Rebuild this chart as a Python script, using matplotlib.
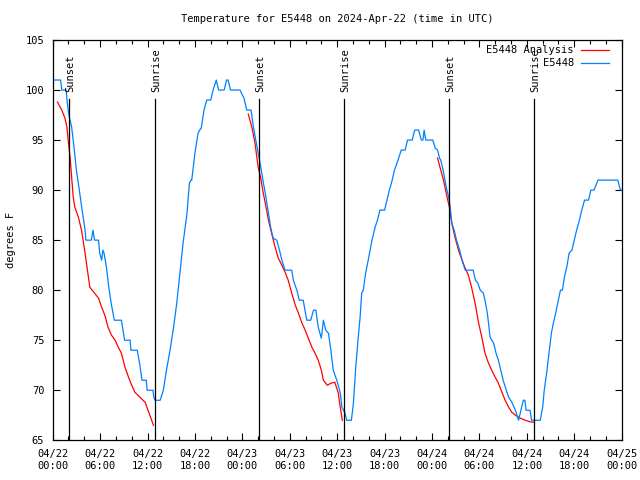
import numpy as np
import matplotlib
matplotlib.use("Agg")
import matplotlib.pyplot as plt
from matplotlib.ticker import MultipleLocator

# hours since 2024-04-22 00:00 UTC
obs_hours = [0.0, 1.0, 1.15, 1.7, 1.85, 2.1, 2.4, 2.7, 3.0, 3.37, 3.67, 4.1, 4.2, 4.9, 5.1, 5.3,
             5.8, 5.95, 6.2, 6.35, 6.5, 6.8, 7.1, 7.4, 7.8, 8.7, 9.1, 9.8, 9.9, 10.7, 11.0, 11.3,
             11.85, 11.95, 12.7, 12.8, 12.95, 13.6, 14.0, 14.4, 14.85, 15.3, 15.7, 16.1, 16.5,
             17.0, 17.3, 17.5, 17.6, 18.0, 18.4, 18.6, 18.8, 19.15, 19.5, 20.0, 20.3, 20.7, 21.0,
             21.7, 22.0, 22.2, 22.5, 23.7, 24.2, 24.55, 25.1, 25.4, 25.7, 26.0, 26.25, 26.6, 26.9,
             27.3, 27.6, 27.9, 28.35, 28.7, 29.0, 29.4, 30.25, 30.45, 30.9, 31.2, 31.7, 32.15,
             32.65, 33.0, 33.3, 33.6, 34.0, 34.25, 34.55, 34.9, 35.2, 35.5, 35.95, 36.4, 36.6,
             36.8, 37.0, 37.2, 37.8, 38.05, 38.35, 38.6, 38.9, 39.1, 39.3, 39.6, 40.0, 40.4, 40.8,
             41.1, 41.4, 42.0, 42.3, 42.6, 42.9, 43.25, 43.7, 44.1, 44.6, 44.9, 45.5, 45.8, 46.3,
             46.65, 46.85, 47.0, 47.2, 48.1, 48.4, 48.7, 48.95, 49.1, 49.4, 49.8, 50.1, 50.3,
             50.5, 50.8, 51.1, 51.5, 51.8, 52.2, 53.2, 53.5, 53.8, 54.1, 54.5, 54.7, 55.0, 55.35,
             55.8, 56.1, 56.4, 56.7, 57.0, 57.4, 57.7, 58.1, 58.55, 58.95, 59.25, 59.55, 59.75,
             59.9, 60.4, 60.6, 61.7, 62.0, 62.2, 62.5, 62.8, 63.1, 63.35, 63.65, 63.9, 64.25,
             64.5, 64.75, 65.05, 65.35, 65.7, 66.0, 66.3, 66.65, 66.95, 67.3, 67.8, 68.1, 68.5,
             69.0, 71.5, 71.85, 72.0]
obs_temp = [101, 101, 100, 100, 98.7, 97.3, 96.3, 94.3, 92, 90, 88.3, 86, 85, 85, 86, 85,
            85, 83.7, 83, 84, 83.7, 82.3, 80.3, 78.7, 77, 77, 75, 75, 74, 74, 72.7, 71,
            71, 70, 70, 69.3, 69, 69, 70, 72, 74, 76.3, 78.7, 81.7, 84.7,
            87.7, 90.7, 91, 91, 93.7, 95.7, 96, 96.2, 98, 99, 99, 100, 101, 100,
            100, 101, 101, 100, 100, 99.2, 98, 98, 96.3, 95, 93.7, 92.7, 91, 89.7,
            87.7, 86.2, 85.2, 85, 84, 83, 82, 82, 81, 80, 79, 79, 77,
            77, 78, 78, 76.3, 75.2, 77, 76, 75.7, 74, 72, 71, 69.7, 68.3,
            68, 67.7, 67, 67, 68.7, 72.3, 74.7, 77.3, 79.7, 80, 81.7, 83.3, 85, 86.3,
            87, 88, 88, 89, 90, 90.8, 92, 93, 94, 94, 95, 95, 96, 96,
            95, 95, 96, 95, 95, 94.2, 94, 93.2, 93, 92, 90.3, 89.3, 88.3,
            86.7, 86, 85, 84, 83, 82, 82, 81, 80.7, 80, 79.7, 79, 77.7, 75.3,
            74.7, 73.7, 73, 72, 71, 70, 69.3, 68.8, 68, 67, 68, 69, 69,
            68, 68, 67, 67, 68.3, 70, 71.7, 73.7, 75.7, 76.7, 77.7, 78.7, 80,
            80, 81.3, 82.3, 83.7, 84, 85, 86, 87, 88, 89, 89, 90, 90,
            91, 91, 90, 90]

ana1_hours = [0.6, 1.15, 1.55, 1.8, 2.0, 2.2, 2.4, 2.6, 2.8, 3.25, 3.65, 4.1, 4.4, 4.7, 5.2, 5.8,
              6.2, 6.6, 7.0, 7.45, 7.9, 8.3, 8.7, 9.15, 9.6, 10.0, 10.4, 11.05, 11.7, 12.3, 12.75]
ana1_temp = [98.8, 98, 97.2, 96.3, 94.7, 93.3, 91.3, 89.3, 88.3, 87.3, 86, 83.7, 82, 80.3, 79.8, 79.2,
             78.3, 77.5, 76.3, 75.5, 75, 74.3, 73.7, 72.3, 71.3, 70.5, 69.8, 69.3, 68.8, 67.5, 66.5]
ana2_hours = [24.75, 25.2, 25.6, 26.0, 26.3, 26.65, 27.0, 27.3, 27.7, 28.15, 28.55, 29.0, 29.4, 29.8,
              30.25, 30.7, 31.1, 31.5, 31.95, 32.35, 32.8, 33.2, 33.6, 34.0, 34.25, 34.75, 35.2,
              35.7, 36.15, 36.35, 36.65]
ana2_temp = [97.6, 96.3, 94.7, 92.3, 91.3, 89.7, 88.3, 87, 85.7, 84.3, 83.2, 82.5, 81.8, 81,
             79.7, 78.5, 77.7, 76.8, 76, 75.2, 74.3, 73.7, 73, 72, 71, 70.5, 70.7,
             70.8, 69.7, 68.5, 67]
ana3_hours = [48.7, 49.0, 49.45, 49.9, 50.2, 50.5, 50.9, 51.35, 51.8, 52.2, 52.6, 53.0, 53.45, 53.9,
              54.3, 54.7, 55.15, 55.55, 56.0, 56.4, 56.85, 57.25, 57.7, 58.1, 58.55, 59.2, 59.8,
              60.4, 60.8]
ana3_temp = [93.2, 92.3, 91, 89.3, 88.3, 86.7, 85.3, 84, 83, 82.2, 81.5, 80.3, 78.7, 76.7,
             75.3, 73.7, 72.7, 72, 71.3, 70.7, 69.8, 69, 68.3, 67.8, 67.5, 67.2, 67,
             66.85, 66.8]

sun_hours = [2.1, 12.98, 26.14, 36.9, 50.18, 60.94]
sun_labels = ["Sunset", "Sunrise", "Sunset", "Sunrise", "Sunset", "Sunrise"]

tick_hours = list(range(0, 73, 6))
tick_labels = ["04/22\n00:00", "04/22\n06:00", "04/22\n12:00", "04/22\n18:00",
               "04/23\n00:00", "04/23\n06:00", "04/23\n12:00", "04/23\n18:00",
               "04/24\n00:00", "04/24\n06:00", "04/24\n12:00", "04/24\n18:00",
               "04/25\n00:00"]

plt.rcParams['font.family'] = ['DejaVu Sans Mono']
plt.rcParams['font.size'] = 7.5

fig, ax = plt.subplots(figsize=(6.4, 4.8), dpi=100)
fig.subplots_adjust(left=0.0823, right=0.9714, top=0.9167, bottom=0.0827)

red = '#ff0000'
blue = '#0080ff'

ana_h = ana1_hours + [np.nan] + ana2_hours + [np.nan] + ana3_hours
ana_t = ana1_temp + [np.nan] + ana2_temp + [np.nan] + ana3_temp
ax.plot(ana_h, ana_t, color=red, lw=0.9)
ax.plot(obs_hours, obs_temp, color=blue, lw=0.9)

# sunrise / sunset markers
for h, lab in zip(sun_hours, sun_labels):
    ax.plot([h, h], [65, 99.1], color='black', lw=0.9, zorder=3)
    ax.text(h + 0.15, 99.8, lab, rotation=90, ha='center', va='bottom')

ax.set_xlim(0, 72)
ax.set_ylim(65, 105)
ax.set_xticks(tick_hours)
ax.set_xticklabels(tick_labels, linespacing=1.35)
ax.xaxis.set_minor_locator(MultipleLocator(2))
ax.yaxis.set_major_locator(MultipleLocator(5))
ax.tick_params(which='both', direction='in', top=True, right=True, width=0.8)
ax.tick_params(which='major', length=5)
ax.tick_params(which='minor', length=3)
ax.tick_params(axis='y', pad=6)
ax.tick_params(axis='x', pad=6)
for s in ax.spines.values():
    s.set_linewidth(0.9)

fig.text(0.5265, 0.960, "Temperature for E5448 on 2024-Apr-22 (time in UTC)", ha='center', va='center')
fig.text(0.017, 0.5, "degrees F", rotation=90, ha='center', va='center')

# legend, gnuplot style (right-aligned text, sample after)
ax.text(0.916, 0.975, "E5448 Analysis", transform=ax.transAxes, ha='right', va='center')
ax.plot([0.929, 0.978], [0.975, 0.975], transform=ax.transAxes, color=red, lw=0.9, clip_on=False)
ax.text(0.916, 0.943, "E5448", transform=ax.transAxes, ha='right', va='center')
ax.plot([0.929, 0.978], [0.943, 0.943], transform=ax.transAxes, color=blue, lw=0.9, clip_on=False)

fig.savefig("out.png", dpi=100)
